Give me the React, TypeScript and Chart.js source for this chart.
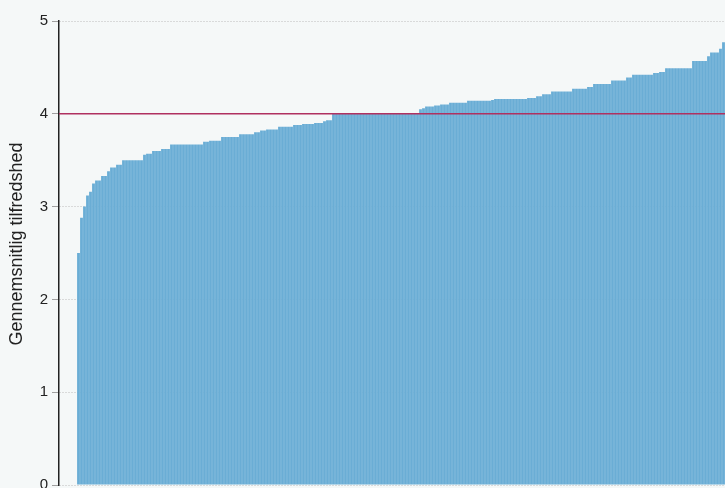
import React, { useEffect, useRef } from 'react';
import { Chart, registerables } from 'chart.js';

Chart.register(...registerables);

// Sorted average satisfaction per unit
const satisfaction: number[] = [
  2.5, 2.88, 3.0, 3.12, 3.16, 3.25, 3.28, 3.28, 3.33, 3.33,
  3.38, 3.42, 3.42, 3.45, 3.45, 3.5, 3.5, 3.5, 3.5, 3.5,
  3.5, 3.5, 3.56, 3.57, 3.57, 3.6, 3.6, 3.6, 3.62, 3.62,
  3.62, 3.67, 3.67, 3.67, 3.67, 3.67, 3.67, 3.67, 3.67, 3.67,
  3.67, 3.67, 3.7, 3.7, 3.71, 3.71, 3.71, 3.71, 3.75, 3.75,
  3.75, 3.75, 3.75, 3.75, 3.78, 3.78, 3.78, 3.78, 3.78, 3.8,
  3.8, 3.82, 3.82, 3.83, 3.83, 3.83, 3.83, 3.86, 3.86, 3.86,
  3.86, 3.86, 3.88, 3.88, 3.88, 3.89, 3.89, 3.89, 3.89, 3.9,
  3.9, 3.9, 3.92, 3.93, 3.93, 4.0, 4.0, 4.0, 4.0, 4.0,
  4.0, 4.0, 4.0, 4.0, 4.0, 4.0, 4.0, 4.0, 4.0, 4.0,
  4.0, 4.0, 4.0, 4.0, 4.0, 4.0, 4.0, 4.0, 4.0, 4.0,
  4.0, 4.0, 4.0, 4.0, 4.05, 4.06, 4.08, 4.08, 4.08, 4.09,
  4.09, 4.1, 4.1, 4.1, 4.12, 4.12, 4.12, 4.12, 4.12, 4.12,
  4.14, 4.14, 4.14, 4.14, 4.14, 4.14, 4.14, 4.14, 4.15, 4.16,
  4.16, 4.16, 4.16, 4.16, 4.16, 4.16, 4.16, 4.16, 4.16, 4.16,
  4.17, 4.17, 4.17, 4.19, 4.19, 4.21, 4.21, 4.21, 4.24, 4.24,
  4.24, 4.24, 4.24, 4.24, 4.24, 4.27, 4.27, 4.27, 4.27, 4.27,
  4.29, 4.29, 4.32, 4.32, 4.32, 4.32, 4.32, 4.32, 4.36, 4.36,
  4.36, 4.36, 4.36, 4.39, 4.39, 4.42, 4.42, 4.42, 4.42, 4.42,
  4.42, 4.42, 4.44, 4.44, 4.45, 4.45, 4.49, 4.49, 4.49, 4.49,
  4.49, 4.49, 4.49, 4.49, 4.49, 4.57, 4.57, 4.57, 4.57, 4.57,
  4.62, 4.66, 4.66, 4.66, 4.7, 4.77,
];

const targetValue = 4;
const yMin = 0;
const yMax = 5;
const yStep = 1;
const yAxisTitle = 'Gennemsnitlig tilfredshed';

export default function App() {
  const canvasRef = useRef<HTMLCanvasElement>(null);

  useEffect(() => {
    if (!canvasRef.current) return;
    const points = satisfaction.map((v, i) => ({ x: i + 1, y: v }));
    const xMax = satisfaction.length + 0.5;
    const xMin = xMax - 222;

    const bgPlugin = {
      id: 'bg',
      beforeDraw(chart: any) {
        const { ctx, width, height } = chart;
        ctx.save();
        ctx.fillStyle = '#f5f8f8';
        ctx.fillRect(0, 0, width, height);
        ctx.restore();
      },
    };

    const refLinePlugin = {
      id: 'refLine',
      afterDatasetsDraw(chart: any) {
        const { ctx, chartArea } = chart;
        const y = chart.scales.y.getPixelForValue(targetValue);
        ctx.save();
        ctx.strokeStyle = '#b03060';
        ctx.lineWidth = 1.5;
        ctx.beginPath();
        ctx.moveTo(chartArea.left, y);
        ctx.lineTo(chartArea.right, y);
        ctx.stroke();
        ctx.restore();
      },
    };

    const titlePlugin = {
      id: 'yTitle',
      afterDraw(chart: any) {
        const { ctx } = chart;
        ctx.save();
        ctx.translate(17.5, 244);
        ctx.rotate(-Math.PI / 2);
        ctx.fillStyle = '#222222';
        ctx.font = '18px "Liberation Sans", Arial, sans-serif';
        ctx.textAlign = 'center';
        ctx.textBaseline = 'middle';
        ctx.fillText(yAxisTitle, 0, 0);
        ctx.restore();
      },
    };

    const chart = new Chart(canvasRef.current, {
      type: 'bar',
      data: {
        datasets: [
          {
            data: points as any,
            backgroundColor: '#6aadd5',
            borderWidth: 0,
            barPercentage: 0.94,
            categoryPercentage: 1,
          },
        ],
      },
      options: {
        animation: false,
        responsive: true,
        maintainAspectRatio: false,
        layout: { padding: { top: 21, bottom: 3, left: 0, right: 0 } },
        plugins: {
          legend: { display: false },
          tooltip: { enabled: false },
        },
        scales: {
          x: {
            type: 'linear',
            min: xMin,
            max: xMax,
            offset: false,
            grace: 0,
            bounds: 'data',
            display: false,
          },
          y: {
            min: yMin,
            max: yMax,
            afterFit(scale: any) {
              scale.width = 59;
              scale.paddingTop = 0;
              scale.paddingBottom = 0;
            },
            ticks: {
              stepSize: yStep,
              padding: 4,
              color: '#222222',
              font: { family: '"Liberation Sans", Arial, sans-serif', size: 15 },
            },
            grid: {
              color: '#bdbdbd',
              lineWidth: 1,
              tickLength: 7,
              tickColor: '#a0a0a0',
              tickWidth: 1,
              tickBorderDash: [],
            },
            border: {
              display: true,
              color: '#222222',
              width: 1.5,
              dash: [1, 2],
            },
          },
        },
      },
      plugins: [bgPlugin, refLinePlugin, titlePlugin],
    });

    return () => chart.destroy();
  }, []);

  return (
    <div style={{ position: 'fixed', left: 0, top: 0, width: 725, height: 488 }}>
      <canvas ref={canvasRef} />
    </div>
  );
}
